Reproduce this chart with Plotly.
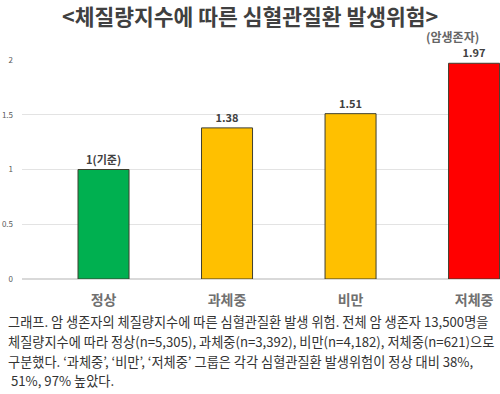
import plotly.graph_objects as go

categories = ["정상", "과체중", "비만", "저체중"]
risk_values = [1.00, 1.38, 1.51, 1.97]
value_labels = ["1(기준)", "1.38", "1.51", "1.97"]
bar_colors = ["#00B050", "#FFC000", "#FFC000", "#FF0000"]
y_ticks = [0, 0.5, 1, 1.5, 2]
y_tick_labels = ["0", "0.5", "1", "1.5", "2"]

title_text = "<체질량지수에 따른 심혈관질환 발생위험>"
unit_text = "(암생존자)"
caption_lines = [
    "그래프. 암 생존자의 체질량지수에 따른 심혈관질환 발생 위험. 전체 암 생존자 13,500명을",
    "체질량지수에 따라 정상(n=5,305), 과체중(n=3,392), 비만(n=4,182), 저체중(n=621)으로",
    "구분했다. ‘과체중’, ‘비만’, ‘저체중’ 그룹은 각각 심혈관질환 발생위험이 정상 대비 38%,",
    " 51%, 97% 높았다.",
]

font_kr = "Noto Sans CJK KR"

fig = go.Figure()
fig.add_trace(go.Bar(
    x=categories,
    y=risk_values,
    text=value_labels,
    textposition="outside",
    textfont=dict(family=font_kr, size=11, color="#404040", weight="bold"),
    marker=dict(color=bar_colors, line=dict(color="#3f3f2f", width=1)),
    cliponaxis=False,
    width=0.413,
    hoverinfo="skip",
))

W, H = 500, 394
ml, mr, mt, mb = 22, 0, 60, 115

fig.update_layout(
    width=W, height=H,
    margin=dict(l=ml, r=mr, t=mt, b=mb),
    paper_bgcolor="white",
    plot_bgcolor="white",
    showlegend=False,
    font=dict(family=font_kr),
    xaxis=dict(
        type="category",
        range=[-0.66, 3.21],
        showgrid=False,
        zeroline=False,
        showline=False,
        ticks="",
        tickfont=dict(family=font_kr, size=14, color="#707070", weight="bold"),
        ticklabelstandoff=11,
    ),
    yaxis=dict(
        range=[0, 2],
        tickvals=y_ticks,
        ticktext=y_tick_labels,
        showgrid=True,
        gridcolor="#E3E3E3",
        gridwidth=1,
        zeroline=True,
        zerolinecolor="#D9D9D9",
        showline=False,
        ticks="",
        tickfont=dict(family=font_kr, size=8, color="#595959"),
        ticklabelstandoff=8,
    ),
)

annotations = [
    dict(text=title_text, x=0.5, y=1 - 15 / H, xref="paper", yref="paper",
         xanchor="center", yanchor="middle", showarrow=False,
         font=dict(family=font_kr, size=21.5, color="#404040", weight="bold")),
    dict(text=unit_text, x=481 / W, y=1 - 36 / H, xref="paper", yref="paper",
         xanchor="right", yanchor="middle", showarrow=False,
         font=dict(family=font_kr, size=12, color="#666666", weight="bold")),
]
caption_y = [321, 341.5, 361.5, 380]
for line, yy in zip(caption_lines, caption_y):
    annotations.append(dict(
        text=line, x=6 / W, y=1 - yy / H, xref="paper", yref="paper",
        xanchor="left", yanchor="middle", showarrow=False,
        font=dict(family=font_kr, size=13.2, color="#333333"),
    ))

# convert full-figure fractions into plot-domain-relative paper coords
plot_w = W - ml - mr
plot_h = H - mt - mb
for a in annotations:
    px = a["x"] * W
    py = (1 - a["y"]) * H
    a["x"] = (px - ml) / plot_w
    a["y"] = 1 - (py - mt) / plot_h
fig.update_layout(annotations=annotations)

fig.write_html(
    "out.html",
    config={"displayModeBar": False},
    post_script="document.body.style.margin='0';document.body.style.overflow='hidden';",
)
